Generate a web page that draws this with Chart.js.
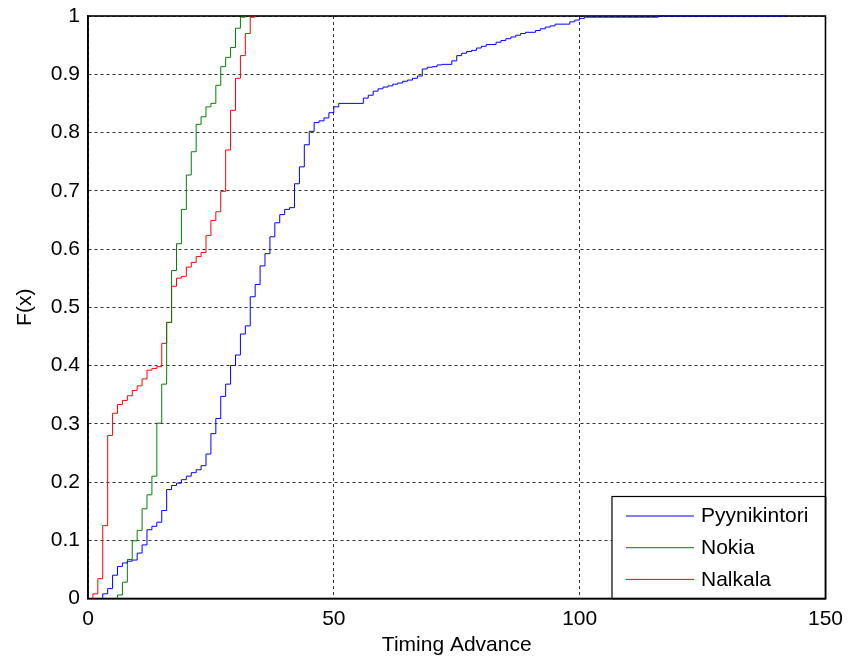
<!DOCTYPE html>
<html>
<head>
<meta charset="utf-8">
<title>Timing Advance CDF</title>
<script src="https://cdn.jsdelivr.net/npm/chart.js@4.4.1/dist/chart.umd.min.js"></script>
<style>
    html, body { margin: 0; padding: 0; background: #fff; }
    #wrap { width: 851px; height: 662px; position: relative; }
</style>
</head>
<body>
<div id="wrap"><canvas id="cdfChart"></canvas></div>
<script>
// Empirical CDF steps: timing advance value, F(x) after the step
const pyynikintoriTA = [3, 3, 4, 5, 6, 7, 8, 9, 10, 11, 12, 13, 14, 15, 16, 17, 18, 19, 20, 21, 22, 23, 24, 25, 26, 27, 28, 29, 30,
    31, 32, 33, 34, 35, 36, 37, 38, 39, 40, 41, 42, 43, 44, 45, 46, 47, 48, 49, 50, 51, 56, 57, 58, 59, 60, 61, 62, 63, 64,
    65, 66, 67, 68, 69, 70, 71, 72, 74, 75, 76, 77, 78, 79, 80, 81, 83, 84, 85, 86, 87, 88, 89, 91, 92, 93, 94, 95, 98, 99,
    100, 101, 116, 142];
const pyynikintoriF = [0, 0.008, 0.017, 0.040, 0.055, 0.061, 0.064, 0.066, 0.078, 0.092, 0.118, 0.124, 0.131, 0.151, 0.187,
    0.194, 0.198, 0.204, 0.210, 0.216, 0.221, 0.228, 0.248, 0.283, 0.309, 0.347, 0.368, 0.400, 0.418, 0.454, 0.468, 0.518,
    0.539, 0.571, 0.592, 0.621, 0.645, 0.659, 0.668, 0.671, 0.712, 0.741, 0.779, 0.802, 0.817, 0.820, 0.825, 0.834, 0.844,
    0.850, 0.859, 0.864, 0.871, 0.875, 0.878, 0.880, 0.883, 0.885, 0.888, 0.890, 0.893, 0.897, 0.909, 0.912, 0.913, 0.916,
    0.917, 0.923, 0.932, 0.936, 0.939, 0.941, 0.945, 0.948, 0.951, 0.955, 0.958, 0.961, 0.964, 0.967, 0.970, 0.972, 0.975,
    0.978, 0.981, 0.983, 0.986, 0.990, 0.993, 0.996, 0.998, 1.0, 1.0];

const nokiaTA = [6, 6, 7, 8, 9, 10, 11, 12, 13, 14, 15, 16, 17, 18, 19, 20, 21, 22, 23, 24, 25, 26, 27, 28, 29, 30, 31, 32];
const nokiaF = [0, 0.006, 0.028, 0.067, 0.099, 0.117, 0.154, 0.178, 0.210, 0.301, 0.368, 0.474, 0.563, 0.609, 0.668, 0.727,
    0.767, 0.814, 0.827, 0.844, 0.850, 0.881, 0.913, 0.929, 0.946, 0.979, 0.998, 1.0];

const nalkalaTA = [1, 1, 2, 3, 4, 5, 6, 7, 8, 9, 10, 11, 12, 13, 14, 15, 16, 17, 18, 19, 20, 21, 22, 23, 24, 25, 26, 27, 28,
    29, 30, 31, 32, 33, 34];
const nalkalaF = [0, 0.008, 0.034, 0.125, 0.280, 0.318, 0.333, 0.340, 0.348, 0.357, 0.365, 0.377, 0.392, 0.395, 0.398,
    0.438, 0.474, 0.536, 0.550, 0.553, 0.569, 0.577, 0.587, 0.594, 0.623, 0.649, 0.664, 0.699, 0.770, 0.838, 0.893, 0.932,
    0.970, 0.998, 1.0];

const seriesNames = ['Pyynikintori', 'Nokia', 'Nalkala'];
const seriesColors = ['#0000ff', '#008000', '#ff0000'];
const yTickLabels = ['0', '0.1', '0.2', '0.3', '0.4', '0.5', '0.6', '0.7', '0.8', '0.9', '1'];
const xTickLabels = ['0', '50', '100', '150'];

(function() {
    'use strict';

    const FONT = "'Liberation Sans', Arial, sans-serif";

    function toPoints(xs, ys) {
        return xs.map((x, i) => ({ x: x, y: ys[i] }));
    }

    // Solid box around the axes (under the lines), MATLAB-like legend on top
    const boxAndLegend = {
        id: 'boxAndLegend',
        beforeDatasetsDraw: function(chart) {
            const ctx = chart.ctx;
            const a = chart.chartArea;
            ctx.save();
            ctx.strokeStyle = '#000';
            ctx.lineWidth = 1.6;
            ctx.strokeRect(a.left, a.top, a.right - a.left, a.bottom - a.top);
            ctx.restore();
        },
        afterDraw: function(chart) {
            const ctx = chart.ctx;
            const a = chart.chartArea;
            ctx.save();
            const lx = a.right - 213.5, ly = a.bottom - 102;
            ctx.fillStyle = '#fff';
            ctx.fillRect(lx, ly, a.right - lx, a.bottom - ly);
            ctx.strokeStyle = '#000';
            ctx.lineWidth = 1.2;
            ctx.strokeRect(lx, ly, a.right - lx, a.bottom - ly);
            // redraw the axis lines under the legend box
            ctx.lineWidth = 1.6;
            ctx.beginPath();
            ctx.moveTo(lx, a.bottom);
            ctx.lineTo(a.right, a.bottom);
            ctx.lineTo(a.right, ly);
            ctx.stroke();

            ctx.font = '21px ' + FONT;
            ctx.textBaseline = 'middle';
            ctx.textAlign = 'left';
            chart.data.datasets.forEach((ds, i) => {
                const y = ly + 19 + i * 31.7;
                ctx.strokeStyle = ds.borderColor;
                ctx.lineWidth = 1;
                ctx.beginPath();
                ctx.moveTo(lx + 14, y + 0.5);
                ctx.lineTo(lx + 82, y + 0.5);
                ctx.stroke();
                ctx.fillStyle = '#000';
                ctx.fillText(ds.label, lx + 89, y + 1);
            });
            ctx.restore();
        }
    };

    const datasets = [
        toPoints(pyynikintoriTA, pyynikintoriF),
        toPoints(nokiaTA, nokiaF),
        toPoints(nalkalaTA, nalkalaF)
    ].map((pts, i) => ({
        label: seriesNames[i],
        data: pts,
        borderColor: seriesColors[i],
        backgroundColor: seriesColors[i],
        borderWidth: 1,
        pointRadius: 0,
        stepped: 'before',
        fill: false,
        clip: false
    }));

    new Chart(document.getElementById('cdfChart'), {
        type: 'line',
        data: { datasets: datasets },
        options: {
            responsive: true,
            maintainAspectRatio: false,
            animation: false,
            layout: { padding: { left: 0, right: 25, top: 16, bottom: 0 } },
            plugins: {
                legend: { display: false },
                tooltip: { enabled: false }
            },
            scales: {
                x: {
                    type: 'linear',
                    min: 0,
                    max: 150,
                    afterFit: function(s) { s.height = 63.5; },
                    afterBuildTicks: function(s) {
                        s.ticks = xTickLabels.map(t => ({ value: Number(t) }));
                    },
                    ticks: {
                        color: '#000',
                        padding: 8,
                        maxRotation: 0,
                        font: { family: FONT, size: 21 },
                        callback: function(v, i) { return xTickLabels[i]; }
                    },
                    grid: {
                        color: 'rgba(0,0,0,0.8)',
                        drawTicks: false
                    },
                    border: { display: true, color: '#000', width: 1.5, dash: [3, 3] },
                    title: {
                        display: true,
                        text: 'Timing Advance',
                        color: '#000',
                        font: { family: FONT, size: 21 },
                        padding: { top: 0, bottom: 4 }
                    }
                },
                y: {
                    min: 0,
                    max: 1,
                    afterFit: function(s) { s.width = 88; },
                    afterBuildTicks: function(s) {
                        s.ticks = yTickLabels.map(t => ({ value: Number(t) }));
                    },
                    ticks: {
                        color: '#000',
                        padding: 8,
                        font: { family: FONT, size: 21, lineHeight: 0.6 },
                        callback: function(v, i) { return yTickLabels[i]; }
                    },
                    grid: {
                        color: 'rgba(0,0,0,0.8)',
                        drawTicks: false
                    },
                    border: { display: true, color: '#000', width: 1.5, dash: [3, 3] },
                    title: {
                        display: true,
                        text: 'F(x)',
                        color: '#000',
                        font: { family: FONT, size: 21 },
                        padding: { top: 13, bottom: 0 }
                    }
                }
            }
        },
        plugins: [boxAndLegend]
    });
})();
</script>
</body>
</html>
